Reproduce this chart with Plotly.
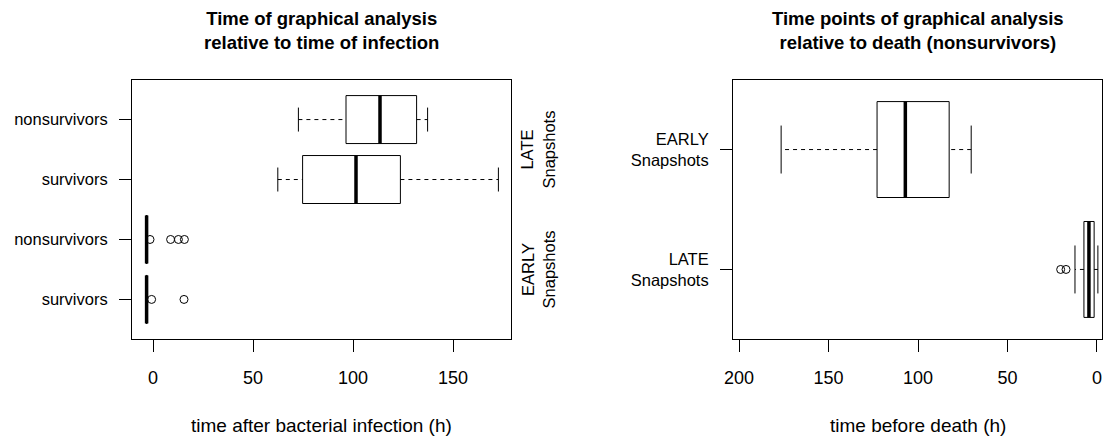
import plotly.graph_objects as go

# left panel: hours after infection, boxes listed bottom -> top
left_labels = ["survivors", "nonsurvivors", "survivors", "nonsurvivors"]
left_lo = [-3.5, -3.5, 62.4, 72.7]
left_q1 = [-3.5, -3.5, 74.8, 96.5]
left_med = [-3.2, -3.2, 101.5, 113.5]
left_q3 = [-2.9, -2.9, 123.7, 131.8]
left_hi = [-2.9, -2.9, 172.7, 137.3]
left_out = [[-0.7, 15.5], [-1.5, 8.8, 12.7, 15.7], [], []]

# right panel: hours before death (nonsurvivors), bottom -> top
right_labels = ["LATE<br>Snapshots", "EARLY<br>Snapshots"]
right_lo = [-0.5, 70.3]
right_q1 = [1.6, 82.6]
right_med = [4.5, 107.1]
right_q3 = [7.3, 122.9]
right_hi = [12.3, 176.5]
right_out = [[17.3, 20.3], []]

FONT = "Liberation Sans, Arial, sans-serif"

fig = go.Figure()


def add_boxes(lo, q1, med, q3, hi, outliers, xa, ya):
    # R-style boxplot: dashed whiskers, staples, thick median, open-circle outliers
    for i in range(len(med)):
        p = i + 1
        st = dict(xaxis=xa, yaxis=ya, mode="lines", showlegend=False, hoverinfo="skip")
        fig.add_trace(go.Scatter(x=[lo[i], q1[i], None, q3[i], hi[i]], y=[p, p, None, p, p],
                                 line=dict(color="black", width=1, dash="4px,4px"), **st))
        fig.add_trace(go.Scatter(x=[lo[i], lo[i], None, hi[i], hi[i]],
                                 y=[p - 0.2, p + 0.2, None, p - 0.2, p + 0.2],
                                 line=dict(color="black", width=1), **st))
        fig.add_trace(go.Scatter(x=[q1[i], q3[i], q3[i], q1[i], q1[i]],
                                 y=[p - 0.4, p - 0.4, p + 0.4, p + 0.4, p - 0.4],
                                 line=dict(color="black", width=1), **st))
        fig.add_trace(go.Scatter(x=[med[i], med[i]], y=[p - 0.4, p + 0.4],
                                 line=dict(color="black", width=3.5), **st))
        if outliers[i]:
            fig.add_trace(go.Scatter(x=outliers[i], y=[p] * len(outliers[i]), mode="markers",
                                     marker=dict(symbol="circle-open", size=8, color="black",
                                                 line=dict(width=1, color="black")),
                                     xaxis=xa, yaxis=ya, showlegend=False, hoverinfo="skip"))


add_boxes(left_lo, left_q1, left_med, left_q3, left_hi, left_out, "x", "y")
add_boxes(right_lo, right_q1, right_med, right_q3, right_hi, right_out, "x2", "y2")

W, H = 1110, 437
ydom = [1 - 339 / H, 1 - 80 / H]
axis_style = dict(showline=True, mirror=True, linecolor="black", linewidth=1,
                  ticks="outside", ticklen=12, tickcolor="black", tickwidth=1,
                  showgrid=False, zeroline=False, automargin=False)
yfont = dict(family=FONT, size=16.5, color="black")
xfont = dict(family=FONT, size=18, color="black")

fig.update_layout(
    template="none",
    width=W, height=H,
    margin=dict(l=0, r=0, t=0, b=0, autoexpand=False),
    paper_bgcolor="white", plot_bgcolor="white",
    showlegend=False,
    xaxis=dict(domain=[132 / W, 511 / W], range=[-10.5, 179], anchor="y",
               tickvals=[0, 50, 100, 150], ticklabelstandoff=10, tickfont=xfont, **axis_style),
    yaxis=dict(domain=ydom, range=[0.34, 4.66], anchor="x",
               tickvals=[1, 2, 3, 4], ticktext=left_labels, ticklabelstandoff=8,
               tickfont=yfont, **axis_style),
    xaxis2=dict(domain=[733 / W, 1102 / W], range=[203.4, -2.8], anchor="y2",
                tickvals=[0, 50, 100, 150, 200], ticklabelstandoff=10, tickfont=xfont, **axis_style),
    yaxis2=dict(domain=ydom, range=[0.42, 2.58], anchor="x2",
                tickvals=[1, 2], ticktext=right_labels, ticklabelstandoff=8,
                tickfont=yfont, **axis_style),
)

title_font = dict(family=FONT, size=18.5, color="black")
xlab_font = dict(family=FONT, size=19, color="black")
grp_font = dict(family=FONT, size=16.5, color="black")
fig.add_annotation(text="<b>Time of graphical analysis<br>relative to time of infection</b>",
                   xref="paper", yref="paper", x=321.5 / W, y=1 - 30 / H,
                   showarrow=False, font=title_font, xanchor="center", yanchor="middle")
fig.add_annotation(text="<b>Time points of graphical analysis<br>relative to death (nonsurvivors)</b>",
                   xref="paper", yref="paper", x=917.5 / W, y=1 - 30 / H,
                   showarrow=False, font=title_font, xanchor="center", yanchor="middle")
fig.add_annotation(text="time after bacterial infection (h)", xref="paper", yref="paper",
                   x=321.5 / W, y=1 - 425 / H, showarrow=False, font=xlab_font,
                   xanchor="center", yanchor="middle")
fig.add_annotation(text="time before death (h)", xref="paper", yref="paper",
                   x=917.5 / W, y=1 - 425 / H, showarrow=False, font=xlab_font,
                   xanchor="center", yanchor="middle")

# group labels on the right side of the left panel
for txt, yv in [("LATE<br>Snapshots", 3.5), ("EARLY<br>Snapshots", 1.5)]:
    fig.add_annotation(text=txt, xref="paper", yref="y", x=538 / W, y=yv,
                       textangle=-90, showarrow=False, font=grp_font,
                       xanchor="center", yanchor="middle")

# page body has a default 8px margin; remove it so the figure fills the window
fig.write_html("out.html", config={"displayModeBar": False},
               post_script="document.body.style.margin='0';document.body.style.overflow='hidden';")
